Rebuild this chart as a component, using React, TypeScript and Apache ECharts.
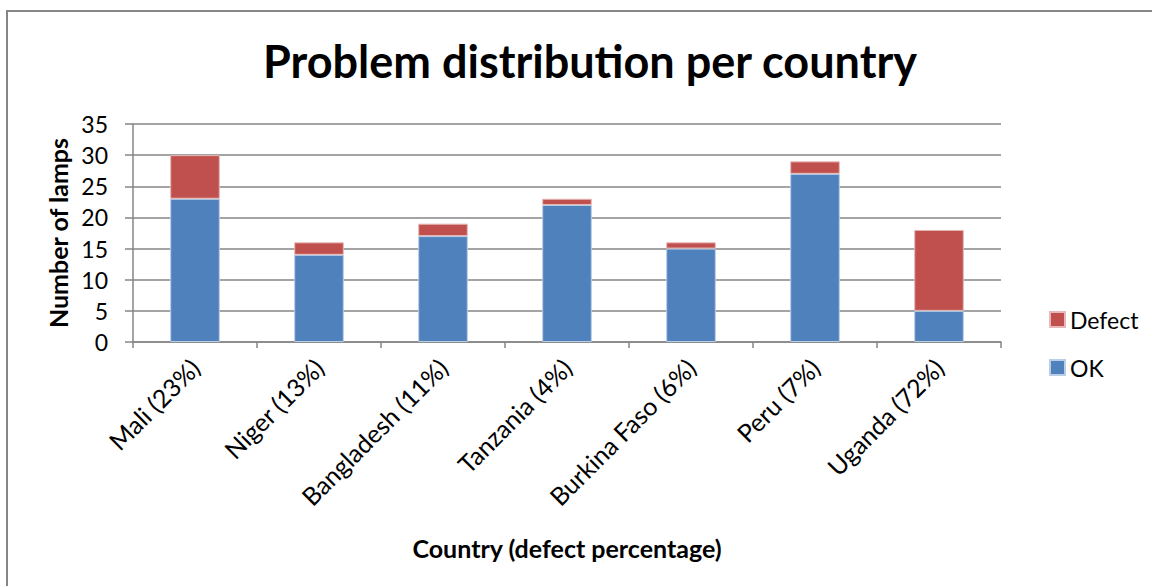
import React, { useEffect, useRef } from "react";
import * as echarts from "echarts";

const categories = [
  "Mali (23%)",
  "Niger (13%)",
  "Bangladesh (11%)",
  "Tanzania (4%)",
  "Burkina Faso (6%)",
  "Peru (7%)",
  "Uganda (72%)",
];
const okValues = [23, 14, 17, 22, 15, 27, 5];
const defectValues = [7, 2, 2, 1, 1, 2, 13];
const yTicks = { min: 0, max: 35, interval: 5 };

const FONT = "Lato, 'Open Sans', sans-serif";

export default function App() {
  const ref = useRef<HTMLDivElement>(null);
  useEffect(() => {
    if (!ref.current) return;
    const chart = echarts.init(ref.current, null, { renderer: "svg" });
    chart.setOption({
      animation: false,
      backgroundColor: "#ffffff",
      textStyle: { fontFamily: FONT, color: "#000" },
      title: {
        text: "Problem distribution per country",
        left: 585,
        top: 33,
        textAlign: "center",
        textStyle: { fontFamily: FONT, fontSize: 45, fontWeight: "bold", color: "#000" },
      },
      graphic: [
        {
          type: "rect",
          shape: { x: 7, y: 11, width: 1300, height: 800 },
          style: { fill: "none", stroke: "#868686", lineWidth: 2 },
          silent: true,
        },
      ],
      legend: {
        orient: "vertical",
        left: 1044,
        top: 303,
        itemWidth: 15,
        itemHeight: 15,
        itemGap: 25,
        icon: "rect",
        data: ["Defect", "OK"],
        textStyle: { fontFamily: FONT, fontSize: 23, color: "#000", padding: [0, 0, 0, 0] },
      },
      grid: { left: 133, right: 151, top: 124, bottom: 244, containLabel: false },
      xAxis: {
        type: "category",
        data: categories,
        name: "Country (defect percentage)",
        nameLocation: "middle",
        nameGap: 193,
        nameTextStyle: { fontFamily: FONT, fontSize: 25, fontWeight: "bold", color: "#000" },
        axisLine: { show: true, lineStyle: { color: "#868686", width: 1.5 } },
        axisTick: { show: true, length: 6, lineStyle: { color: "#868686", width: 1.5 } },
        axisLabel: {
          rotate: 45,
          margin: 21,
          fontFamily: FONT,
          fontSize: 25,
          color: "#000",
        },
      },
      yAxis: {
        type: "value",
        min: yTicks.min,
        max: yTicks.max,
        interval: yTicks.interval,
        name: "Number of lamps",
        nameLocation: "middle",
        nameGap: 62,
        nameRotate: 90,
        nameTextStyle: { fontFamily: FONT, fontSize: 25, fontWeight: "bold", color: "#000" },
        axisLine: { show: true, lineStyle: { color: "#868686", width: 1.5 } },
        axisTick: { show: true, length: 8, lineStyle: { color: "#868686", width: 1.5 } },
        axisLabel: { margin: 25, fontFamily: FONT, fontSize: 23, color: "#000" },
        splitLine: { show: true, lineStyle: { color: "#868686", width: 1.5 } },
      },
      series: [
        {
          name: "OK",
          type: "bar",
          stack: "total",
          data: okValues,
          barWidth: "40%",
          itemStyle: { color: "#4F81BD", borderColor: "#B9CDE5", borderWidth: 1 },
        },
        {
          name: "Defect",
          type: "bar",
          stack: "total",
          data: defectValues,
          barWidth: "40%",
          itemStyle: { color: "#C0504D", borderColor: "#E6B9B8", borderWidth: 1 },
        },
      ],
    });
    return () => chart.dispose();
  }, []);
  return (
    <div
      ref={ref}
      style={{ position: "fixed", left: 0, top: 0, width: 1152, height: 586 }}
    />
  );
}
